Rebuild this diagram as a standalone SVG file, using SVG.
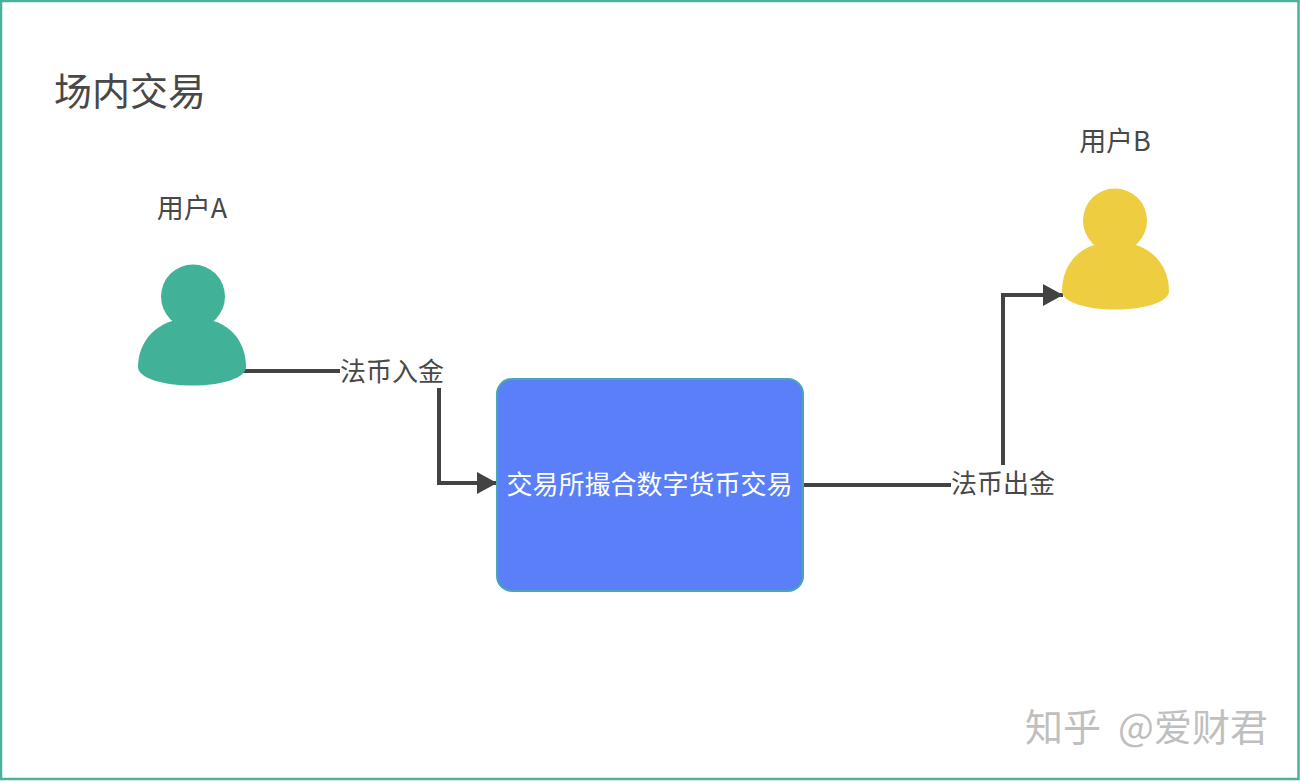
<svg xmlns="http://www.w3.org/2000/svg" width="1300" height="782" viewBox="0 0 1300 782">
<style>
text{font-family:"Noto Sans CJK SC","Liberation Sans",sans-serif;fill:#484848;font-weight:400}
.l{font-size:26px;text-anchor:middle}
.u{font-size:27px;text-anchor:middle}
.c{fill:none;stroke:#434343;stroke-width:4}
.mark{font-size:38px;font-weight:400;fill:#bfbfbf}
</style>
<defs>
<marker id="arrow" markerUnits="userSpaceOnUse" markerWidth="21" markerHeight="24" refX="20" refY="12" orient="auto"><path d="M0 1L20 12L0 23Z" fill="#434343"/></marker>
</defs>
<rect width="1300" height="782" fill="#fff"/>
<rect x="1" y="1" width="1297.500" height="778" fill="none" stroke="#46b49c" stroke-width="2.500"/>
<text id="title" x="54" y="105" style="font-size:38px">场内交易</text>
<g id="connectors">
<path class="c" d="M243 371H340"/>
<path class="c" marker-end="url(#arrow)" d="M439 388V483H497"/>
<path class="c" d="M803 485H951"/>
<path class="c" marker-end="url(#arrow)" d="M1003 465V295H1063"/>
</g>
<g id="userA">
<circle cx="193" cy="296.500" r="32" fill="#41b297"/>
<path fill="#41b297" d="M193 318C155 318 138 343 138 367C138 378 163 385.500 192 385.500C222 385.500 246 378 246 367C246 343 231 318 193 318Z"/>
<text class="u" x="192" y="218">用户A</text>
</g>
<g id="userB">
<circle cx="1115" cy="220.500" r="32" fill="#efcd41"/>
<path fill="#efcd41" d="M1115 242C1077 242 1062 267 1062 291C1062 302 1086 309.500 1115 309.500C1145 309.500 1169 302 1169 291C1169 267 1153 242 1115 242Z"/>
<text class="u" x="1115" y="151">用户B</text>
</g>
<g id="exchange">
<rect x="497" y="379" width="306" height="212" rx="15" fill="#5a7ff8" stroke="#46a8b0" stroke-width="2"/>
<text class="l" x="649.500" y="494" style="fill:#fff">交易所撮合数字货币交易</text>
</g>
<g id="labelIn"><text class="l" x="392" y="381">法币入金</text></g>
<g id="labelOut"><text class="l" x="1003" y="493">法币出金</text></g>
<g id="watermark">
<text class="mark" x="1025" y="741">知乎</text>
<text class="mark" x="1118" y="741">@爱财君</text>
</g>
</svg>
